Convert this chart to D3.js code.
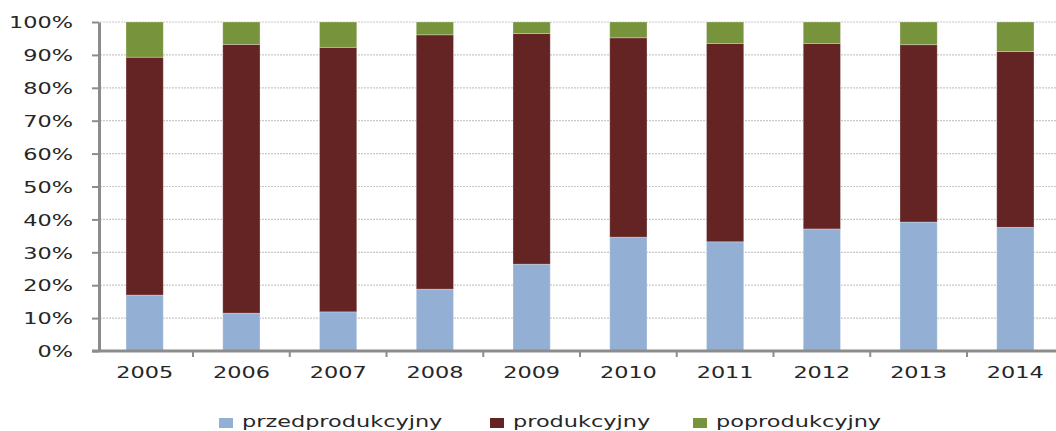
<!DOCTYPE html>
<html>
<head>
<meta charset="utf-8">
<script src="https://cdn.jsdelivr.net/npm/d3@7"></script>
<style>
  body { margin: 0; background: #fff; }
  text { font-family: "DejaVu Sans", Verdana, sans-serif; fill: #262626; }
</style>
</head>
<body>
<div class="center"></div>
<script>
// data
var years = ["2005", "2006", "2007", "2008", "2009", "2010", "2011", "2012", "2013", "2014"];
var przedprodukcyjny = [17.0, 11.5, 11.9, 18.8, 26.4, 34.6, 33.2, 37.1, 39.2, 37.6];
var produkcyjny      = [72.3, 81.7, 80.4, 77.3, 70.1, 60.6, 60.3, 56.4, 53.9, 53.4];
var poprodukcyjny    = [10.7,  6.8,  7.7,  3.9,  3.5,  4.8,  6.5,  6.5,  6.9,  9.0];
var seriesNames = ["przedprodukcyjny", "produkcyjny", "poprodukcyjny"];
var yTicks = [0, 10, 20, 30, 40, 50, 60, 70, 80, 90, 100];

var colors = ["#93b0d4", "#632423", "#77933c"];
var sx = 1.4; // horizontal text stretch of the original

var W = 1056, H = 431;
var svg = d3.select("div.center").append("svg")
    .attr("width", W)
    .attr("height", H);

var x = d3.scaleBand().domain(years).range([97, 1063]).paddingInner(0.615).paddingOuter(0.3);
var y = d3.scaleLinear().domain([0, 100]).range([351, 22]);

// gridlines
svg.append("g").selectAll("line")
    .data(yTicks.slice(1))
    .enter().append("line")
    .attr("x1", 100).attr("x2", W)
    .attr("y1", function(d) { return y(d); })
    .attr("y2", function(d) { return y(d); })
    .attr("stroke", "#c8c8c8")
    .attr("stroke-width", 1.2)
    .attr("stroke-dasharray", "2,1");

// stack the series
var rows = years.map(function(yr, i) {
    return { year: yr, przedprodukcyjny: przedprodukcyjny[i], produkcyjny: produkcyjny[i], poprodukcyjny: poprodukcyjny[i] };
});
var stacked = d3.stack().keys(seriesNames)(rows);

svg.append("g").selectAll("g")
    .data(stacked)
    .enter().append("g")
    .attr("fill", function(d, i) { return colors[i]; })
    .selectAll("rect")
    .data(function(d) { return d; })
    .enter().append("rect")
    .attr("x", function(d) { return x(d.data.year); })
    .attr("width", x.bandwidth())
    .attr("y", function(d) { return y(d[1]); })
    .attr("height", function(d) { return y(d[0]) - y(d[1]); })
    .attr("stroke", "#ffffff")
    .attr("stroke-opacity", 0.35)
    .attr("stroke-width", 0.8);

// Y axis
var yAxis = svg.append("g")
    .attr("transform", "translate(99,0)")
    .call(d3.axisLeft(y).tickValues(yTicks).tickFormat(function(d) { return d + "%"; })
        .tickSizeInner(7).tickSizeOuter(0));
yAxis.select(".domain").attr("stroke", "#8c8c8c").attr("stroke-width", 3);
yAxis.selectAll(".tick line").attr("stroke", "#8c8c8c").attr("stroke-width", 2);
yAxis.selectAll(".tick text")
    .attr("x", 0)
    .attr("dy", "0.36em")
    .attr("transform", "translate(-26,0) scale(" + sx + ",1)")
    .style("font-size", "16px")
    .style("font-family", "'DejaVu Sans', sans-serif")
    .attr("fill", "#262626");

// X axis
var xAxis = svg.append("g")
    .attr("transform", "translate(0,351)")
    .call(d3.axisBottom(x).tickSize(0).tickPadding(0));
xAxis.select(".domain").remove();
svg.append("line")
    .attr("x1", 92).attr("x2", W)
    .attr("y1", 351).attr("y2", 351)
    .attr("stroke", "#8c8c8c").attr("stroke-width", 3);
xAxis.selectAll(".tick text")
    .attr("y", 0)
    .attr("dy", 0)
    .attr("transform", "translate(0,27) scale(" + sx + ",1)")
    .style("font-size", "16px")
    .style("font-family", "'DejaVu Sans', sans-serif")
    .attr("fill", "#262626");

// category boundary ticks
svg.append("g").selectAll("line")
    .data(years.slice(1))
    .enter().append("line")
    .attr("x1", function(d) { return x(d) - x.step() * x.paddingInner() / 2; })
    .attr("x2", function(d) { return x(d) - x.step() * x.paddingInner() / 2; })
    .attr("y1", 351).attr("y2", 357)
    .attr("stroke", "#8c8c8c").attr("stroke-width", 2);

// legend
var legendX = [219, 490, 693];
var legend = svg.append("g").selectAll("g")
    .data(seriesNames)
    .enter().append("g")
    .attr("transform", function(d, i) { return "translate(" + legendX[i] + ",0)"; });
legend.append("rect")
    .attr("x", 0).attr("y", 418)
    .attr("width", 14).attr("height", 10)
    .attr("fill", function(d, i) { return colors[i]; });
legend.append("text")
    .attr("transform", "translate(23,427) scale(" + sx + ",1)")
    .style("font-size", "16px")
    .text(function(d) { return d; });
</script>
</body>
</html>
